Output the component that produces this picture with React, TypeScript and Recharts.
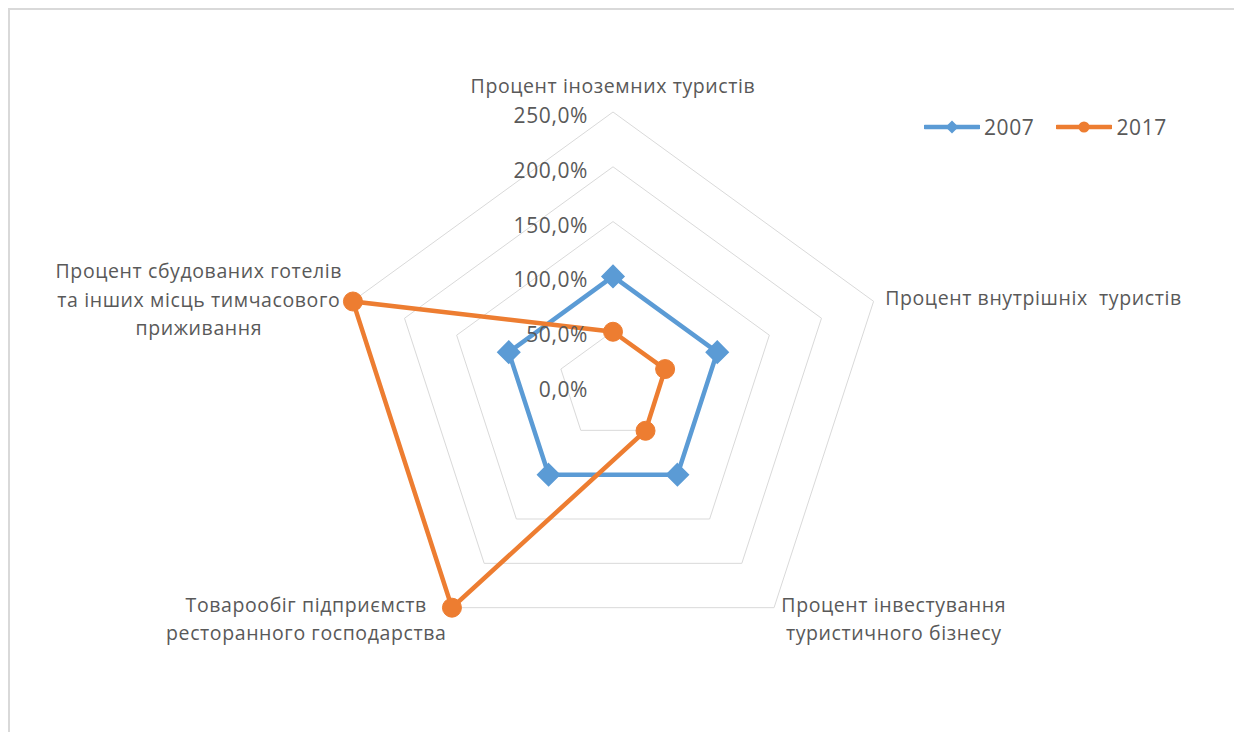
import React from 'react';
import { RadarChart, Radar, PolarGrid, PolarAngleAxis, PolarRadiusAxis, Legend } from 'recharts';

// categories (line breaks as in the original chart)
const categories = [
    'Процент іноземних туристів',
    'Процент внутрішніх  туристів',
    'Процент інвестування\nтуристичного бізнесу',
    'Товарообіг підприємств\nресторанного господарства',
    'Процент сбудованих готелів\nта інших місць тимчасового\nприживання',
];

const values2007 = [100, 100, 100, 100, 100];
const values2017 = [49.5, 50, 50.5, 250, 249.5];

const radiusTicks = [0, 50, 100, 150, 200, 250];

const BLUE = '#5b9bd5';
const ORANGE = '#ed7d31';
const TEXT = '#595959';
const FONT = '"Open Sans", "Noto Sans", sans-serif';

const data = categories.map((name, i) => ({
    name,
    y2007: values2007[i],
    y2017: values2017[i],
}));

// label placement around each spoke (anchor + offset from the tick point)
const labelLayout = [
    { anchor: 'middle', dx: 0, dy: -19 },
    { anchor: 'start', dx: 4, dy: -1 },
    { anchor: 'middle', dx: 115, dy: -10 },
    { anchor: 'middle', dx: -141, dy: -10 },
    { anchor: 'middle', dx: -146, dy: -28 },
];
const LINE_H = 28.5;

const AngleTick = (props: any) => {
    const { x, y, payload, index } = props;
    const lines = String(payload.value).split('\n');
    const l = labelLayout[index] || labelLayout[0];
    return (
        <text
            x={x + l.dx}
            y={y + l.dy}
            textAnchor={l.anchor}
            fill={TEXT}
            fontSize={19.5}
            letterSpacing={0.6}
            fontFamily={FONT}
            style={{ whiteSpace: 'pre' }}
        >
            {lines.map((line, i) => (
                <tspan key={i} x={x + l.dx} y={y + l.dy + i * LINE_H} dominantBaseline="central">
                    {line}
                </tspan>
            ))}
        </text>
    );
};

const RadiusTick = (props: any) => {
    const { x, y, payload } = props;
    return (
        <text
            x={x - 25}
            y={y + 3}
            textAnchor="end"
            dominantBaseline="central"
            fill={TEXT}
            fontSize={21}
            letterSpacing={0.6}
            fontFamily={FONT}
        >
            {Number(payload.value).toFixed(1).replace('.', ',')}%
        </text>
    );
};

const DiamondDot = (props: any) => {
    const { cx, cy, index } = props;
    const s = 11;
    return (
        <polygon
            key={`dia-${index}`}
            points={`${cx},${cy - s} ${cx + s},${cy} ${cx},${cy + s} ${cx - s},${cy}`}
            fill={BLUE}
            stroke={BLUE}
            strokeWidth={1.5}
        />
    );
};

const CircleDot = (props: any) => {
    const { cx, cy, index } = props;
    return <circle key={`cir-${index}`} cx={cx} cy={cy} r={9.5} fill={ORANGE} stroke={ORANGE} strokeWidth={1} />;
};

const legendItems = [
    { label: '2007', color: BLUE, shape: 'diamond' },
    { label: '2017', color: ORANGE, shape: 'circle' },
];

const renderLegend = () => (
    <div style={{ display: 'flex', alignItems: 'center', fontFamily: FONT, fontSize: 21, letterSpacing: 0.6, color: TEXT }}>
        {legendItems.map((it) => (
            <div key={it.label} style={{ display: 'flex', alignItems: 'center', marginRight: 22 }}>
                <svg width={56} height={20} style={{ marginRight: 4 }}>
                    <line x1={1} y1={10} x2={55} y2={10} stroke={it.color} strokeWidth={4.5} strokeLinecap="round" />
                    {it.shape === 'diamond' ? (
                        <polygon points="28,3.5 34.5,10 28,16.5 21.5,10" fill={it.color} />
                    ) : (
                        <circle cx={28} cy={10} r={5.5} fill={it.color} />
                    )}
                </svg>
                <span>{it.label}</span>
            </div>
        ))}
    </div>
);

export default function App() {
    return (
        <div
            style={{
                width: 1231,
                height: 724,
                boxSizing: 'border-box',
                border: '2px solid #d9d9d9',
                borderBottom: 'none',
                background: '#fff',
                position: 'relative',
                overflow: 'hidden',
            }}
        >
            <RadarChart
                width={1227}
                height={722}
                data={data}
                cx={603}
                cy={376}
                outerRadius={274}
                margin={{ top: 0, right: 0, bottom: 0, left: 0 }}
            >
                <PolarGrid gridType="polygon" radialLines={false} stroke="#d9d9d9" strokeWidth={1} />
                <PolarAngleAxis dataKey="name" tick={AngleTick} tickLine={false} axisLine={false} />
                <PolarRadiusAxis
                    angle={90}
                    domain={[0, 250]}
                    ticks={radiusTicks as any}
                    tickCount={6}
                    tick={RadiusTick}
                    axisLine={false}
                    tickLine={false}
                />
                <Radar
                    name="2007"
                    dataKey="y2007"
                    stroke={BLUE}
                    strokeWidth={4.5}
                    fill="none"
                    fillOpacity={0}
                    dot={DiamondDot}
                    isAnimationActive={false}
                />
                <Radar
                    name="2017"
                    dataKey="y2017"
                    stroke={ORANGE}
                    strokeWidth={4.5}
                    fill="none"
                    fillOpacity={0}
                    dot={CircleDot}
                    isAnimationActive={false}
                />
                <Legend
                    layout="horizontal"
                    verticalAlign="middle"
                    align="right"
                    content={renderLegend}
                    wrapperStyle={{ top: 103, left: 914, right: 'auto', width: 'auto' }}
                />
            </RadarChart>
        </div>
    );
}
